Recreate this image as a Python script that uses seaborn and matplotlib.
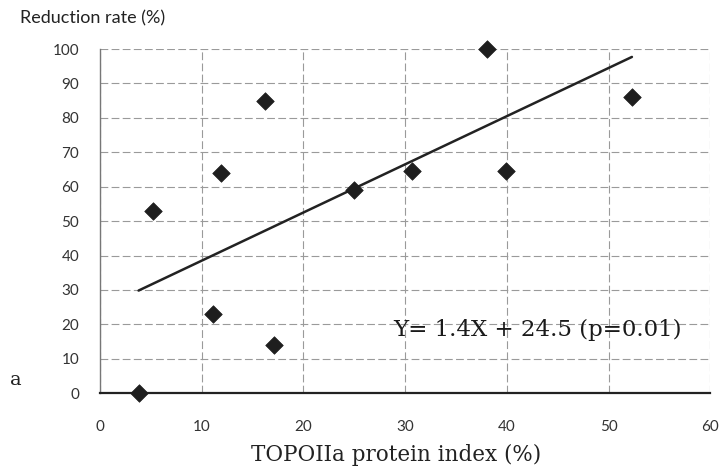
import numpy as np
import pandas as pd
import matplotlib
matplotlib.use("Agg")
import matplotlib.pyplot as plt
import seaborn as sns

# TOPOIIa protein index (%) and tumour reduction rate (%) per case
topo_index = [3.8, 5.2, 11.1, 11.9, 16.2, 17.1, 25.0, 30.7, 38.1, 39.9, 52.3]
reduction_rate = [0, 53, 23, 64, 85, 14, 59, 64.5, 100, 64.5, 86]

# fitted regression Y = 1.4X + 24.5
slope = 1.4
intercept = 24.5
equation_label = "Y= 1.4X + 24.5 (p=0.01)"

x_ticks = [0, 10, 20, 30, 40, 50, 60]
y_ticks = [0, 10, 20, 30, 40, 50, 60, 70, 80, 90, 100]

df = pd.DataFrame({"topo": topo_index, "rate": reduction_rate})

sns.set_style("white")
plt.rcParams["font.family"] = ["Lato", "DejaVu Sans"]

fig = plt.figure(figsize=(7.24, 4.72), dpi=100)
ax = fig.add_axes([0.138, 0.167, 0.843, 0.729])

# regression line across the observed range
x_line = np.array([min(topo_index), max(topo_index)])
fit = pd.DataFrame({"topo": x_line, "rate": slope * x_line + intercept})
sns.lineplot(data=fit, x="topo", y="rate", color="#222222", linewidth=1.8, ax=ax)

sns.scatterplot(data=df, x="topo", y="rate", marker="D", s=80,
                color="#1e1e1e", edgecolor="#1e1e1e", linewidth=0.5, ax=ax,
                zorder=3, clip_on=False)

ax.set_xlim(0, 60)
ax.set_ylim(0, 100)
ax.set_xticks(x_ticks)
ax.set_yticks(y_ticks)
ax.tick_params(axis="both", labelsize=11, colors="#333333", length=3, width=0.8)
ax.tick_params(axis="x", pad=19, length=0)
ax.tick_params(axis="y", pad=12)

ax.grid(True, color="#9a9a9a", linestyle=(0, (7, 3)), linewidth=0.8)
ax.set_axisbelow(True)

for side in ("top", "right"):
    ax.spines[side].set_visible(False)
ax.spines["left"].set_color("#777777")
ax.spines["left"].set_linewidth(1.0)
ax.spines["bottom"].set_color("#222222")
ax.spines["bottom"].set_linewidth(1.6)

ax.set_xlabel("TOPOIIa protein index (%)", family=["DejaVu Serif"], fontsize=15.5,
              color="#222222", va="center")
ax.xaxis.set_label_coords(0.485, -0.18)
ax.set_ylabel("")
fig.text(0.028, 0.962, "Reduction rate (%)", fontsize=13, color="#222222",
         ha="left", va="center")

ax.text(0.48, 0.183, equation_label, transform=ax.transAxes, family=["DejaVu Serif"],
        fontsize=16.5, color="#1a1a1a", ha="left", va="center")
fig.text(0.014, 0.195, "a", family=["DejaVu Serif"], fontsize=14, color="#222222",
         ha="left", va="center")

fig.savefig("out.png", dpi=100)
